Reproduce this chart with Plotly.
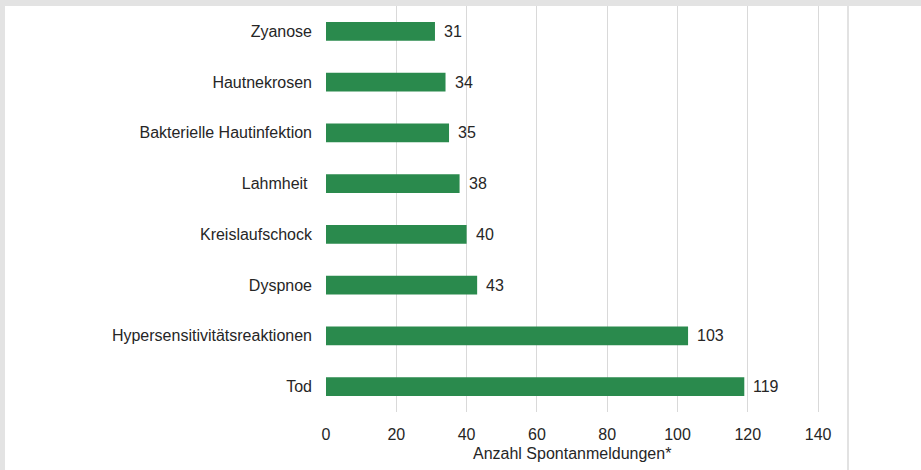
import plotly.graph_objects as go

categories = ["Zyanose", "Hautnekrosen", "Bakterielle Hautinfektion", "Lahmheit ",
              "Kreislaufschock", "Dyspnoe", "Hypersensitivitätsreaktionen", "Tod"]
values = [31, 34, 35, 38, 40, 43, 103, 119]
x_ticks = [0, 20, 40, 60, 80, 100, 120, 140]
x_title = "Anzahl Spontanmeldungen*"

W, H = 921, 470
ml, mr, mt, mb = 326, 73, 6, 58
pw, ph = W - ml - mr, H - mt - mb

fig = go.Figure()
fig.add_trace(go.Bar(
    y=categories, x=values, orientation="h",
    marker=dict(color="#2a8a4d", line=dict(width=0)),
    width=0.37, hoverinfo="x+y",
))

for c, v in zip(categories, values):
    fig.add_annotation(x=v, y=c, text=str(v), showarrow=False, xanchor="left",
                       xshift=7, font=dict(size=16, color="#262626"))

# axis title centred under the labelled tick span
fig.add_annotation(x=(x_ticks[0] + x_ticks[-1]) / 2, y=0, xref="x", yref="paper",
                   yanchor="middle", yshift=-41, text=x_title, showarrow=False,
                   font=dict(size=16, color="#262626"))

# frame shadows (top and left) and right border line
fig.add_shape(type="rect", xref="paper", yref="paper",
              x0=-ml / pw, x1=(W - ml) / pw, y0=1, y1=1 + mt / ph,
              fillcolor="#e3e3e3", line=dict(width=0), layer="above")
fig.add_shape(type="rect", xref="paper", yref="paper",
              x0=-ml / pw, x1=(-ml + 5) / pw, y0=-mb / ph, y1=1,
              fillcolor="#e3e3e3", line=dict(width=0), layer="above")
fig.add_shape(type="line", xref="paper", yref="paper",
              x0=1, x1=1, y0=-mb / ph, y1=1,
              line=dict(color="#d9d9d9", width=1.5))

fig.update_layout(
    width=W, height=H,
    margin=dict(l=ml, r=mr, t=mt, b=mb, autoexpand=False),
    paper_bgcolor="white", plot_bgcolor="white",
    font=dict(family="Liberation Sans, Arial, sans-serif", size=16, color="#262626"),
    showlegend=False,
    xaxis=dict(range=[0, 148.5], tickvals=x_ticks, ticktext=[str(t) for t in x_ticks],
               showgrid=True, gridcolor="#d9d9d9", gridwidth=1, zeroline=False,
               showline=False, ticks="", ticklabelstandoff=11, automargin=False,
               fixedrange=True),
    yaxis=dict(categoryorder="array", categoryarray=categories[::-1],
               range=[-0.5, 7.5], showgrid=False, zeroline=False, showline=False,
               ticks="", ticklabelstandoff=13, automargin=False, fixedrange=True),
)

fig.write_html("out.html", config={"displayModeBar": False},
               post_script="document.body.style.margin='0px';document.body.style.overflow='hidden';")
